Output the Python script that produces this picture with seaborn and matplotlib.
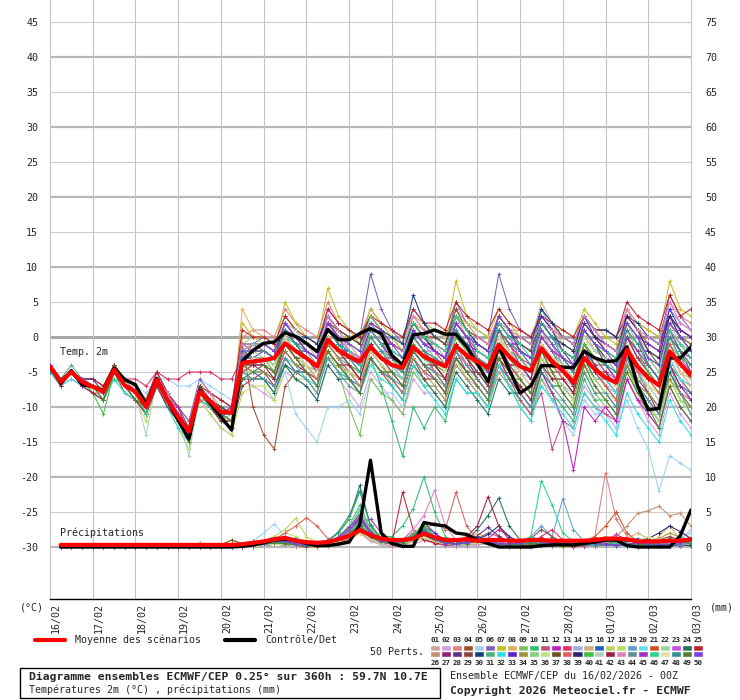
import numpy as np
import pandas as pd
import matplotlib
matplotlib.use("Agg")
import matplotlib.pyplot as plt
import matplotlib.transforms as mtransforms
from matplotlib.lines import Line2D
from matplotlib.patches import Rectangle
import seaborn as sns

# time axis : 6h steps over 360h
hours = list(range(0, 361, 6))
day_labels = ["16/02", "17/02", "18/02", "19/02", "20/02", "21/02", "22/02", "23/02",
              "24/02", "25/02", "26/02", "27/02", "28/02", "01/03", "02/03", "03/03"]

member_colors = ["#d4a0a0", "#d0a0e0", "#e08080", "#a05030", "#a0d0f0", "#8060c0", "#c0c020", "#e0b060",
                 "#80c060", "#30c070", "#c05080", "#c020c0", "#e03060", "#a0b0e0", "#d0b080", "#2060c0",
                 "#c0d060", "#b0e060", "#60a0d0", "#60e0f0", "#d05020", "#a0d0a0", "#c050e0", "#207060",
                 "#c02030", "#c09070", "#902070", "#603080", "#904040", "#104080", "#50b080", "#30e0e0",
                 "#6020d0", "#a09040", "#80d080", "#c0e080", "#705020", "#e06060", "#302070", "#40c040",
                 "#b0d0c0", "#a02040", "#e080c0", "#6090a0", "#a030c0", "#30d090", "#e0e0a0", "#309090",
                 "#508030", "#8040e0"]

# ensemble mean and control, 2m temperature (°C)
mean_temp = [-4.2, -6.4, -5.0, -6.4, -7.1, -7.8, -4.7, -6.9, -7.8, -10.0, -6.1, -9.0, -11.4, -13.5, -7.8, -9.2, -10.7, -10.8,
             -3.7, -3.5, -3.3, -3.0, -0.9, -2.0, -3.0, -4.2, -0.4, -1.9, -2.8, -3.5, -1.4, -3.0, -4.0, -4.4, -1.4, -2.8,
             -3.5, -4.2, -1.3, -2.6, -3.5, -4.4, -1.1, -2.8, -4.2, -4.8, -1.6, -3.5, -4.8, -6.5, -3.0, -4.6, -5.8, -6.5,
             -1.8, -4.2, -5.8, -6.9, -2.1, -3.8, -5.5]
control_temp = [-4.2, -6.6, -4.8, -6.8, -7.1, -7.6, -4.5, -6.1, -6.8, -9.7, -5.9, -9.0, -11.9, -14.6, -7.6, -9.5, -11.4, -13.3,
                -3.5, -1.9, -0.9, -0.7, 0.6, 0.1, -0.9, -2.1, 1.1, -0.4, -0.4, 0.5, 1.2, 0.5, -2.6, -4.0, 0.3, 0.5,
                1.0, 0.4, 0.4, -1.4, -3.8, -6.4, -1.3, -4.7, -8.0, -7.0, -4.1, -4.1, -4.3, -4.4, -2.0, -3.0, -3.5, -3.4,
                -1.4, -7.0, -10.4, -10.2, -3.0, -3.0, -1.4]

# ensemble mean and control, precipitation (mm / 6h), from +6h
mean_precip = [0.3, 0.3, 0.3, 0.3, 0.3, 0.3, 0.3, 0.3, 0.3, 0.3, 0.3, 0.3, 0.3, 0.3, 0.3, 0.3, 0.3,
               0.4, 0.6, 0.8, 1.1, 1.3, 0.9, 0.7, 0.6, 0.7, 1.1, 1.6, 2.4, 1.7, 1.2, 1.0, 1.0, 1.2, 1.9, 1.4, 1.0,
               1.0, 1.1, 0.9, 1.0, 1.0, 0.9, 0.9, 1.0, 1.0, 0.9, 0.9, 0.9, 0.9, 1.0, 1.2, 1.2, 1.1, 0.8, 0.8, 0.8,
               0.9, 0.9, 1.1]
control_precip = [0, 0, 0, 0, 0, 0, 0, 0, 0, 0, 0, 0, 0, 0, 0, 0, 0,
                  0.1, 0.3, 0.6, 1.0, 1.1, 1.0, 0.5, 0.2, 0.2, 0.4, 0.7, 3.2, 12.4, 2.0, 0.5, 0.1, 0.1, 3.5, 3.2, 3.0,
                  2.0, 1.8, 1.0, 0.5, 0.0, 0.0, 0.0, 0.0, 0.2, 0.3, 0.3, 0.3, 0.5, 0.7, 1.0, 1.0, 0.2, 0.0, 0.0, 0.0,
                  0.0, 1.6, 5.3]

# 50 perturbed members, temperature
temp_members = [
    [-4,-7,-5,-6,-7,-8,-4,-6,-8,-10,-6,-9,-11,-13,-7,-9,-10,-11, -3,-2, -1,-2,2,0, -1,-3,3,0, -1,-2,3,1, 0,-2,2,0, -1,-3,3,0, -2,-3,2,0, -2,-4,1,-1, -3,-5,0,-2, -3,-4,2,-1, -3,-5,2,-1, -2],
    [-4,-7,-5,-7,-8,-9,-5,-7,-9,-11,-7,-10,-13,-15,-9,-11,-13,-14, -6,-7, -8,-9,-5,-6, -7,-9,-4,-6, -8,-10,-5,-7, -9,-11,-6,-8, -8,-10,-4,-6, -7,-9,-3,-6, -9,-11,-6,-8, -10,-12,-7,-9, -11,-13,-6,-9, -12,-14,-8,-11, -13],
    [-4,-6,-5,-6,-6,-7,-4,-6,-7,-9,-5,-8,-10,-12,-7,-8,-9,-10, 0,1, 1,0,4,2, 1,0,5,2, 1,0,4,2, 1,0,3,2, 1,0,4,2, 0,-1,3,1, 1,0,4,2, 0,-1,3,1, 1,0,4,2, 1,0,5,3, 2],
    [-4,-6,-5,-6,-7,-8,-5,-7,-8,-10,-7,-10,-12,-14,-8,-10,-12,-13, -1,-10, -14,-16,-7,-5, -4,-6,-1,-3, -5,-6,-2,-4, -6,-8,-3,-5, -4,-6,-1,-3, -5,-7,-2,-4, -6,-8,-3,-5, -7,-9,-4,-6, -6,-8,-2,-5, -8,-10,-4,-6, -8],
    [-4,-6,-5,-6,-7,-8,-5,-6,-7,-8,-6,-6,-7,-7,-6,-7,-8,-9, -4,-3, -3,-4,-5,-11, -13,-15,-10,-10, -9,-11,-6,-8, -8,-10,-5,-7, -7,-9,-4,-6, -8,-10,-5,-7, -9,-11,-7,-9, -12,-14,-9,-11, -11,-13,-9,-13, -16,-22,-17,-18, -19],
    [-4,-6,-5,-6,-7,-8,-4,-6,-7,-9,-5,-8,-10,-12,-6,-8,-9,-10, -2,-1, 0,-1,3,1, -1,-2,4,2, 1,0,9,4, 1,-1,4,2, 0,-1,5,2, 1,0,9,4, 1,0,3,1, 0,-1,3,1, -1,-2,2,0, 0,-1,6,3, 1],
    [-4,-6,-5,-6,-7,-8,-4,-6,-8,-10,-6,-9,-11,-13,-7,-9,-10,-11, 2,0, -1,-2,5,2, 0,-1,7,3, 1,-1,4,2, 0,-2,3,1, 1,0,8,3, 1,0,4,2, 0,-1,3,1, 1,0,4,2, 0,-1,3,2, 1,0,8,4, 3],
    [-4,-6,-5,-6,-7,-9,-5,-7,-8,-11,-6,-9,-12,-14,-8,-9,-11,-12, 4,1, 0,-1,2,1, -1,-2,2,0, 0,-1,3,1, -1,-2,2,1, -2,-3,2,0, -2,-3,1,-1, -3,-4,0,-2, -4,-5,1,-2, -3,-4,2,0, -2,-3,3,1, 0],
    [-4,-7,-5,-6,-7,-8,-5,-7,-8,-10,-6,-9,-12,-14,-8,-10,-11,-12, -5,-6, -6,-8,-3,-5, -6,-8,-2,-5, -10,-14,-6,-8, -9,-11,-5,-7, -7,-9,-3,-6, -8,-10,-4,-7, -10,-12,-6,-9, -9,-11,-5,-8, -10,-12,-4,-8, -11,-13,-6,-9, -10],
    [-4,-6,-5,-7,-7,-8,-5,-7,-9,-10,-6,-9,-11,-14,-8,-9,-11,-11, -4,-4, -4,-5,-1,-3, -4,-6,-1,-3, -6,-8,-3,-7, -12,-17,-10,-13, -10,-12,-6,-8, -8,-10,-4,-7, -9,-11,-5,-8, -10,-12,-6,-9, -9,-11,-4,-7, -8,-10,-3,-6, -7],
    [-4,-6,-5,-6,-7,-8,-5,-7,-8,-10,-6,-9,-11,-13,-8,-9,-10,-11, -3,-3, -3,-4,0,-2, -3,-5,-1,-3, -4,-5,-1,-3, -4,-6,-2,-4, -5,-7,-2,-4, -6,-8,-3,-6, -9,-11,-8,-16, -12,-13,-8,-10, -11,-12,-6,-9, -10,-12,-5,-8, -9],
    [-4,-6,-5,-6,-7,-8,-5,-7,-8,-10,-7,-9,-12,-14,-8,-10,-11,-12, -5,-4, -4,-5,-1,-3, -5,-6,-2,-4, -5,-7,-2,-4, -6,-8,-3,-5, -6,-8,-2,-5, -7,-9,-4,-6, -8,-10,-5,-8, -12,-19,-10,-12, -10,-12,-6,-9, -11,-13,-7,-10, -12],
    [-4,-6,-5,-6,-6,-7,-4,-6,-6,-7,-5,-6,-6,-5,-5,-5,-6,-6, -3,-1, -2,-3,1,-1, -2,-3,2,0, -2,-3,1,-1, -3,-4,1,-1, -2,-4,2,0, -3,-4,1,-1, -3,-5,0,-2, -4,-6,-1,-3, -5,-7,0,-3, -4,-6,1,-2, -4],
    [-5,-7,-6,-7,-8,-9,-5,-7,-9,-11,-7,-10,-12,-15,-9,-10,-12,-13, -6,-5, -5,-6,-2,-4, -4,-5,0,-2, -3,-4,1,-1, -4,-5,0,-2, -3,-4,1,-1, -4,-5,1,-2, -5,-6,-1,-3, -6,-7,-2,-4, -7,-8,-1,-4, -8,-10,-3,-6, -9],
    [-4,-6,-5,-6,-7,-8,-5,-7,-8,-10,-6,-8,-11,-13,-7,-8,-10,-11, -2,-3, -3,-4,0,-2, -2,-3,1,-1, -1,-3,2,0, -1,-2,2,1, 0,-1,3,1, 0,-1,2,1, 0,-1,5,2, -1,-2,3,1, -2,-3,4,1, -2,-3,3,0, -1],
    [-4,-7,-5,-6,-7,-8,-5,-7,-8,-10,-6,-9,-11,-14,-8,-9,-11,-12, -4,-5, -6,-7,-4,-5, -5,-6,-3,-5, -6,-7,-3,-5, -5,-6,-2,-4, -6,-7,-3,-5, -5,-7,-2,-4, -4,-6,0,-2, -5,-6,-2,-4, -6,-8,-3,-6, -7,-9,-4,-7, -8],
    [-4,-6,-5,-6,-7,-7,-5,-7,-8,-9,-6,-9,-11,-14,-8,-9,-10,-11, -1,0, 0,-1,3,1, 0,-1,2,1, -1,-2,3,1, 0,-1,3,2, 1,0,3,2, 1,0,2,1, 0,-1,2,1, -1,-2,2,0, -2,-3,1,-1, -3,-4,1,-2, -3],
    [-4,-6,-5,-7,-8,-9,-6,-8,-9,-12,-7,-10,-13,-16,-9,-11,-13,-14, -8,-7, -7,-9,-4,-6, -6,-8,-2,-5, -5,-7,-2,-4, -7,-9,-4,-6, -8,-10,-3,-6, -6,-8,-2,-5, -7,-9,-3,-6, -8,-10,-4,-7, -9,-11,-5,-8, -10,-12,-6,-9, -11],
    [-4,-6,-5,-6,-7,-8,-4,-6,-8,-10,-6,-8,-11,-13,-7,-9,-10,-10, -2,-2, -2,-3,1,0, -2,-3,1,-1, -3,-4,0,-2, -2,-3,1,-1, -3,-4,1,-1, -2,-3,2,0, -1,-2,4,1, -2,-3,2,0, -1,-2,3,1, 0,-1,4,2, 1],
    [-4,-6,-5,-6,-7,-8,-5,-7,-8,-10,-6,-9,-11,-14,-8,-9,-11,-12, -4,-4, -4,-5,-1,-3, -3,-5,-1,-3, -4,-5,-1,-3, -4,-6,-1,-3, -5,-6,-1,-4, -5,-7,-2,-4, -6,-8,-3,-5, -7,-8,-3,-6, -6,-8,-2,-5, -7,-9,-3,-6, -7],
    [-4,-6,-5,-6,-7,-8,-5,-7,-8,-10,-7,-9,-12,-14,-8,-10,-12,-12, -5,-4, -3,-4,0,-2, -3,-4,0,-2, -2,-3,1,-1, -3,-4,0,-2, -4,-5,0,-2, -3,-5,1,-2, -4,-5,1,-2, -3,-4,2,0, -2,-3,3,1, -1,-2,3,1, 0],
    [-4,-7,-5,-6,-7,-8,-5,-6,-8,-10,-6,-8,-11,-13,-8,-9,-11,-12, -3,-2, -2,-3,0,-1, -3,-4,0,-2, -4,-6,-1,-3, -5,-6,-1,-3, -4,-5,0,-2, -4,-6,0,-3, -6,-8,-2,-5, -8,-10,-5,-7, -9,-11,-4,-7, -9,-12,-5,-8, -10],
    [-4,-6,-5,-6,-7,-8,-5,-7,-8,-10,-6,-9,-11,-13,-8,-9,-11,-11, -3,-3, -4,-5,-1,-3, -4,-5,-1,-3, -3,-4,1,-1, -3,-4,0,-2, -2,-3,2,0, -2,-3,2,0, -3,-4,1,-1, -4,-6,-1,-3, -5,-6,0,-3, -5,-7,0,-3, -5],
    [-4,-6,-5,-6,-7,-8,-5,-7,-8,-10,-6,-9,-11,-14,-8,-9,-11,-12, -6,-6, -6,-8,-4,-6, -7,-9,-4,-6, -6,-8,-3,-5, -6,-8,-3,-6, -8,-10,-5,-7, -9,-11,-6,-8, -8,-10,-5,-7, -7,-9,-3,-6, -8,-10,-4,-7, -9,-11,-5,-8, -10],
    [-4,-6,-5,-6,-6,-7,-4,-6,-7,-9,-5,-8,-10,-13,-7,-8,-9,-10, 1,0, 0,-1,3,1, 0,-1,4,2, 1,0,3,2, 1,0,4,2, 2,1,5,3, 2,1,4,2, 1,0,3,2, 1,0,3,1, 1,0,5,3, 2,1,6,3, 4],
    [-4,-6,-5,-7,-7,-8,-5,-7,-9,-10,-6,-9,-12,-14,-8,-10,-11,-11, -4,-3, -3,-4,0,-2, -4,-5,-1,-3, -5,-7,-2,-4, -6,-8,-3,-5, -7,-9,-4,-6, -8,-10,-5,-7, -7,-9,-3,-6, -6,-8,-2,-5, -5,-7,-1,-4, -6,-8,-2,-5, -6],
    [-4,-6,-5,-6,-7,-8,-5,-7,-8,-10,-6,-9,-12,-14,-8,-10,-11,-12, -3,-4, -5,-6,-2,-4, -5,-7,-2,-4, -4,-6,-1,-3, -3,-5,0,-2, -4,-6,-1,-3, -5,-6,-1,-4, -4,-6,-1,-3, -5,-7,-2,-5, -7,-9,-3,-6, -8,-11,-4,-7, -9],
    [-4,-6,-5,-6,-6,-8,-4,-7,-8,-10,-6,-8,-11,-14,-7,-9,-11,-10, -1,-1, -1,-2,2,0, -1,-2,2,0, -2,-3,2,0, -2,-3,1,-1, -1,-2,3,1, -1,-2,3,1, -2,-3,2,0, -2,-4,1,-1, -3,-4,2,0, -4,-6,0,-2, -5],
    [-4,-6,-5,-7,-8,-9,-5,-8,-9,-11,-7,-10,-12,-15,-9,-10,-12,-13, -7,-6, -5,-7,-3,-5, -5,-6,-2,-4, -6,-8,-3,-5, -7,-9,-4,-6, -6,-8,-3,-5, -5,-7,-1,-4, -6,-8,-2,-5, -5,-7,-1,-4, -4,-6,0,-3, -5,-7,-1,-4, -6],
    [-4,-6,-5,-6,-7,-8,-5,-7,-8,-10,-6,-9,-11,-13,-8,-9,-10,-11, -2,-1, -1,-2,1,0, 0,-1,3,1, 0,-1,3,1, 0,-1,6,2, 0,-1,3,1, -1,-2,2,0, 0,-1,4,2, 0,-1,3,1, 1,0,3,2, 0,-1,3,1, 0],
    [-4,-6,-4,-6,-7,-8,-5,-7,-8,-11,-6,-9,-11,-15,-8,-9,-11,-11, -3,-3, -3,-4,1,-1, -2,-4,1,-1, -3,-4,1,-1, -3,-5,0,-2, -3,-4,1,-1, -4,-5,0,-2, -4,-5,0,-2, -5,-6,-1,-3, -4,-6,0,-2, -5,-7,-1,-3, -4],
    [-5,-7,-6,-7,-8,-9,-6,-8,-9,-11,-7,-10,-13,-15,-9,-10,-12,-13, -5,-5, -5,-6,-3,-4, -6,-7,-3,-5, -6,-8,-4,-6, -7,-9,-4,-7, -9,-11,-6,-8, -8,-10,-4,-7, -10,-12,-7,-9, -11,-13,-8,-10, -12,-14,-8,-11, -13,-15,-9,-12, -14],
    [-4,-6,-5,-6,-7,-8,-5,-7,-8,-10,-6,-9,-11,-13,-8,-9,-10,-11, -2,-3, -2,-3,1,-1, -3,-4,0,-2, -2,-3,1,-1, -1,-2,2,0, -2,-3,1,-1, -2,-3,1,-1, -1,-2,3,1, -2,-3,2,0, -2,-3,2,0, -1,-2,4,1, 0],
    [-4,-6,-5,-6,-7,-8,-5,-7,-8,-10,-6,-9,-11,-14,-8,-9,-11,-12, -4,-5, -5,-6,-2,-4, -4,-6,-1,-3, -3,-5,0,-2, -4,-5,0,-2, -5,-6,-1,-3, -4,-6,-1,-3, -5,-7,-2,-4, -6,-8,-3,-5, -7,-9,-4,-7, -8,-10,-6,-8, -10],
    [-4,-7,-5,-6,-7,-9,-5,-7,-8,-10,-7,-9,-11,-14,-8,-9,-12,-11, -2,-2, -3,-4,0,-2, -2,-3,1,0, -1,-2,3,1, -2,-3,2,0, -1,-2,3,1, -2,-3,1,-1, -2,-3,1,-1, -3,-4,0,-2, -2,-3,2,0, -3,-5,1,-1, -2],
    [-4,-6,-5,-6,-7,-8,-5,-7,-8,-10,-6,-9,-12,-14,-8,-10,-11,-12, -5,-5, -4,-5,-1,-3, -4,-6,-2,-4, -5,-6,-2,-4, -5,-7,-2,-4, -6,-7,-2,-4, -7,-9,-3,-5, -6,-8,-3,-5, -7,-9,-4,-6, -8,-9,-3,-6, -7,-8,-2,-5, -6],
    [-4,-6,-5,-6,-7,-8,-4,-6,-8,-10,-6,-9,-11,-13,-7,-9,-10,-11, -1,-2, -2,-3,1,-1, -1,-2,2,1, 0,-1,2,1, -1,-2,2,0, 0,-1,4,1, 0,-1,3,1, -1,-2,2,0, -2,-3,1,-1, -3,-5,0,-2, -2,-4,2,0, -1],
    [-4,-6,-5,-6,-8,-8,-5,-7,-8,-10,-6,-9,-12,-14,-9,-9,-11,-12, -3,-4, -4,-5,-1,-3, -5,-6,-2,-4, -4,-6,-1,-3, -4,-5,0,-2, -5,-7,-1,-4, -6,-8,-2,-5, -5,-7,-1,-4, -6,-8,-2,-5, -7,-9,-2,-5, -6,-8,-1,-4, -5],
    [-4,-6,-5,-6,-7,-8,-5,-7,-8,-10,-6,-9,-11,-14,-8,-9,-11,-12, -3,-2, -2,-3,2,0, -2,-3,1,-1, -2,-3,1,-1, -1,-2,2,0, -2,-3,2,0, -1,-2,3,1, -2,-3,2,0, -1,-2,3,0, -1,-2,3,1, -2,-3,3,0, -2],
    [-4,-6,-5,-6,-8,-11,-5,-7,-8,-10,-6,-9,-11,-13,-8,-9,-11,-11, -4,-4, -3,-5,0,-2, -3,-4,0,-2, -4,-5,0,-2, -3,-5,-1,-3, -4,-5,0,-2, -4,-5,0,-2, -3,-5,0,-2, -4,-6,-1,-3, -4,-5,1,-2, -5,-7,0,-3, -4],
    [-4,-6,-5,-6,-7,-8,-5,-6,-8,-14,-6,-9,-11,-17,-8,-9,-11,-11, -2,-1, -1,-2,2,1, -1,-2,2,0, -2,-3,2,0, -2,-3,1,-1, -3,-4,1,-1, -3,-4,0,-2, -4,-5,1,-2, -4,-5,0,-2, -3,-5,1,-1, -3,-4,1,-1, -3],
    [-4,-7,-5,-7,-8,-9,-5,-7,-9,-11,-7,-10,-12,-14,-8,-10,-12,-12, -4,-4, -4,-6,-1,-3, -3,-5,0,-2, -4,-6,-1,-3, -5,-7,-2,-4, -4,-6,-1,-3, -6,-8,-3,-5, -7,-9,-4,-6, -6,-8,-2,-5, -5,-7,-1,-4, -6,-7,-2,-5, -7],
    [-4,-6,-5,-6,-7,-8,-5,-7,-7,-10,-6,-8,-11,-14,-8,-8,-11,-11, -1,-2, -2,-3,1,0, -1,-2,3,1, -2,-3,2,0, -1,-2,3,1, -1,-2,2,0, 0,-1,3,1, 0,-1,2,1, 0,-1,3,1, -1,-2,4,1, 0,-1,5,2, 1],
    [-4,-6,-5,-6,-7,-8,-5,-7,-8,-10,-6,-9,-11,-14,-8,-9,-11,-12, -5,-6, -6,-7,-3,-5, -6,-8,-3,-5, -7,-8,-3,-5, -6,-7,-2,-4, -5,-7,-2,-4, -6,-8,-3,-6, -8,-10,-4,-7, -9,-11,-5,-8, -8,-10,-3,-7, -9,-11,-4,-8, -11],
    [-4,-6,-5,-7,-7,-8,-5,-7,-8,-10,-6,-9,-10,-14,-8,-9,-11,-10, -3,-3, -3,-4,0,-2, -2,-3,2,0, -3,-4,1,-1, -3,-4,1,-1, -2,-3,2,0, -3,-5,1,-1, -4,-5,0,-2, -3,-5,1,-1, -4,-6,0,-2, -4,-6,1,-2, -3],
    [-4,-6,-5,-6,-7,-8,-6,-7,-8,-11,-6,-9,-11,-14,-8,-10,-11,-11, -2,-3, -3,-4,0,-1, -3,-4,1,-1, -2,-4,1,-1, -2,-3,2,0, -1,-2,3,1, -2,-3,2,0, -1,-3,2,0, -2,-3,1,-1, -2,-3,2,0, -3,-4,1,-1, -3],
    [-4,-6,-5,-6,-7,-8,-5,-7,-8,-10,-6,-9,-11,-14,-8,-9,-11,-12, -4,-3, -3,-4,0,-2, -4,-5,0,-2, -3,-5,0,-2, -4,-5,0,-2, -3,-5,1,-2, -4,-6,0,-2, -5,-7,-1,-3, -4,-6,0,-3, -6,-7,-1,-4, -7,-9,-2,-5, -7],
    [-5,-6,-5,-6,-7,-8,-5,-7,-8,-10,-6,-10,-11,-14,-8,-9,-11,-11, -3,-2, -2,-3,1,-1, -3,-4,1,-1, -3,-5,0,-2, -4,-5,0,-2, -3,-4,1,-1, -3,-4,1,-1, -2,-4,2,0, -3,-5,1,-1, -4,-5,1,-1, -4,-6,0,-2, -4],
    [-4,-6,-5,-6,-7,-9,-5,-7,-9,-10,-6,-9,-12,-15,-8,-9,-11,-12, -6,-5, -4,-5,-1,-3, -5,-7,-2,-4, -6,-8,-3,-5, -5,-7,-2,-4, -6,-8,-3,-5, -7,-9,-3,-6, -6,-8,-2,-5, -8,-10,-4,-7, -9,-11,-5,-8, -10,-13,-7,-10, -12],
    [-4,-6,-5,-6,-7,-8,-5,-7,-8,-10,-6,-9,-11,-13,-8,-9,-11,-11, -2,-2, -1,-2,2,0, -2,-3,2,0, -1,-2,2,1, -1,-3,1,-1, -2,-3,2,0, -1,-2,3,1, -2,-3,1,-1, -3,-4,1,-1, -2,-4,2,0, -3,-4,2,0, -2],
]

# 50 perturbed members, precipitation from +6h
precip_members = [
    [0,0,0,0,0,0,0,0,0,0,0,0,0,0,0,0,0, 0,0.2,0.5,1.2,0.8,0.3,0,0,0.3,1, 2,3.5,1.2,0.5,0.3,0.8,1.5,2.2,1,0.3, 0.2,0.5,1,0.6,0.2,0,0,0.3,0.8,0.5, 0.3,0.2,0.5,1,0.8,0.3,0.2,0,0,0.3, 0.5,0.3,0.2],
    [0,0,0,0,0,0,0,0,0,0,0,0,0,0,0,0,0, 0,0,0.2,0.5,0.3,0,0,0,0.2,0.5, 1.2,2,0.8,0.3,0,0,0.3,1,0.5,0.2, 0,0,0.3,0.5,0.2,0,0,0,0.2,0.5, 0.3,0,0,0.2,0.4,0.3,0,0,0,0.2, 0.5,1,2.5],
    [0,0,0,0,0,0,0,0,0,0,0,0,0,0,0,0,0, 0,0.3,0.8,1.5,1,0.5,0.2,0,0.3,0.8, 1.5,2.5,1.2,0.5,0.2,0.5,1.2,2,1,0.5, 0.3,0.5,0.8,0.5,0.3,0.2,0,0.3,1,0.8, 0.5,0.3,0.5,1.5,10.6,4,1.5,0.5,0.3,0.2, 0.3,0.5,0.3],
    [0,0,0,0,0,0,0,0.3,0,0,0,0,0,0,0,0,0, 0,0,0.3,0.6,0.4,0.2,0,0,0.2,0.6, 1.5,3,1.5,0.6,0.2,0.3,0.8,1.5,0.8,0.3, 0.2,0.5,1.2,0.8,0.3,0,0,0.2,0.5,0.3, 0.2,0,0.2,0.5,1,0.6,0.3,0,0,0.3, 0.6,0.8,0.5],
    [0,0,0,0,0,0,0,0,0,0,0,0,0,0,0,0,0, 0.2,0.8,2,3.3,1.5,0.5,0.3,0.2,0.5,1, 2,3,1,0.5,0.3,0.8,2,1.2,0.5,0.3, 0.5,1,0.8,0.5,0.3,0.2,0.5,1,0.6,0.3, 0.2,0.5,0.8,0.5,0.3,0.2,0,0.2,0.5,0.3, 0.2,0.3,0.5],
    [0,0,0,0,0,0,0,0,0,0,0,0,0,0,0,0,0, 0,0,0.3,0.5,0.8,0.5,0.2,0,0.3,0.6, 1.8,4,2,0.8,0.3,1,2.5,1.5,0.6,0.3, 0.2,0.3,0.6,1,0.8,0.3,0.2,0.5,1.2,0.8, 0.4,0.2,0.3,0.6,1.2,0.8,0.4,0.2,0,0.2, 0.5,0.4,0.3],
    [0,0,0,0,0,0,0,0,0,0,0,0,0,0,0,0,0, 0,0.2,0.5,0.8,1.2,0.6,0.3,0.2,0.5,1.2, 2.5,4.5,2,0.8,0.4,0.6,1,2.8,1.5,0.6, 0.3,0.5,1,0.6,0.3,0.2,0.3,0.8,0.5,0.2, 0,0.2,0.5,0.8,1.5,1,0.5,0.3,0.2,0.5, 0.8,0.6,0.4],
    [0,0,0,0,0,0,0,0,0,0,0,0,0,0,0,0,0, 0,0,0.2,0.4,0.3,0.2,0,0,0.2,0.5, 1,2,1,0.5,0.2,0.4,0.8,1.2,0.6,0.3, 0.5,1,2,1.2,0.5,0.3,0.2,0.4,0.3,0.2, 0.3,0.6,0.4,0.2,0.5,0.8,0.5,0.3,0.5,1.5, 3,1,0.5],
    [0,0,0,0,0,0,0,0,0,0,0,0,0,0,0,0,0, 0,0.2,0.6,1,0.6,0.3,0,0,0.3,0.8, 2.2,5,2.5,1,0.4,0.6,1.5,3,1.5,0.5, 0.3,0.4,0.8,0.6,0.4,0.2,0.3,0.6,0.4,0.3, 0.2,0.4,0.6,1,0.8,0.5,0.3,0.2,0.3,0.5, 0.8,0.5,0.3],
    [0,0,0,0,0,0,0,0,0,0,0,0,0,0,0,0,0, 0,0.3,0.6,0.9,0.5,0.3,0.2,0,0.3,0.8, 1.5,3,2,1.5,1.5,3,5.5,10,5,1.5, 0.8,0.5,0.5,0.8,0.5,0.3,0.2,0.5,1,0.6, 0.3,0.2,0.4,0.6,0.8,0.5,0.3,0.2,0.3,0.4, 0.6,0.4,0.3],
    [0,0,0,0,0,0,0,0,0,0,0,0,0,0,0,0,0, 0,0,0.3,0.5,0.4,0.2,0.3,0.5,0.8,1.2, 1.8,2.5,1.5,0.8,0.5,0.8,1.2,1.8,1,0.5, 0.3,0.6,1.2,2,1.5,0.6,0.3,0.3,0.5,0.4, 0.3,0.2,0.5,0.6,0.4,0.2,0.3,0.4,0.6,0.5, 0.3,0.5,0.4],
    [0,0,0,0,0,0,0,0,0,0,0,0,0,0,0,0,0, 0,0.2,0.4,0.6,0.4,0.2,0,0.2,0.4,0.8, 1.5,3.5,4,2,0.8,0.5,1,2,1.2,0.6, 0.4,0.3,0.5,1.2,2.5,1.5,0.5,0.3,0.6,0.8, 0.5,0.3,0.2,0.4,0.8,1.8,1,0.5,0.3,0.2, 0.4,0.6,1],
    [0,0,0,0,0,0,0,0,0,0,0,0,0,0,0,0,0, 0,0,0.2,0.5,0.8,1.2,0.6,0.3,0.2,0.5, 1,2.2,1.2,0.6,0.3,0.8,2,1.2,0.5,0.3, 0.2,0.5,1,0.6,0.3,0.2,0.3,0.6,1.5,2.5, 1,0.4,0.2,0.3,0.6,0.4,0.2,0.3,0.5,0.3, 0.2,0.3,0.5],
    [0,0,0,0,0,0,0,0,0,0,0,0,0,0,0,0,0, 0,0.2,0.5,1,1.5,1.2,0.6,0.3,0.2,0.5, 1.2,2.5,1,0.5,0.3,0.5,1,1.5,0.8,0.4, 0.3,0.4,0.8,0.5,0.3,0.2,0.4,0.6,0.4,0.2, 0.3,0.5,0.8,1.2,0.8,0.4,0.2,0.3,0.6,0.8, 1,0.6,0.4],
    [0,0,0,0,0,0,0,0,0,0,0,0,0,0,0,0,0, 0,0,0.3,0.6,0.5,0.3,0,0,0.2,0.6, 1.5,2.8,1.2,0.6,0.3,0.5,1.2,2.5,1,0.5, 0.3,0.5,0.6,0.4,0.2,0.3,0.5,0.8,0.6,0.3, 0.2,0.3,0.5,0.6,0.4,0.8,1.2,2,1.2,0.5, 0.3,0.5,0.8],
    [0,0,0,0,0,0,0,0,0,0,0,0,0,0,0,0,0, 0,0.2,0.3,0.6,0.9,0.6,0.3,0.2,0.5,1, 2,3.8,1.8,0.8,0.4,0.8,1.5,3,2,1, 0.5,0.8,1.5,1,0.5,0.3,0.2,0.5,1,0.6, 0.3,0.2,0.3,0.5,0.8,0.5,0.3,0.2,0.2,0.4, 0.6,0.8,0.5],
    [0,0,0,0,0,0,0,0,0,0,0,0,0,0,0,0,0, 0,0.3,0.8,1.5,2.5,4.1,1.5,0.6,0.3,0.8, 1.5,3,1.5,0.6,0.3,0.5,1,2,1.5,0.6, 0.4,0.3,0.5,0.8,0.5,0.3,0.2,0.4,0.6,0.4, 0.2,0.3,0.5,0.4,0.6,1,0.6,0.3,0.2,0.3, 0.5,0.3,0.2],
    [0,0,0,0,0,0,0,0,0,0,0,0,0,0,0,0,0, 0,0.2,0.5,1.2,2,1.5,0.6,0.3,0.5,1.2, 2.5,4.8,2,0.8,0.5,1,1.8,3.5,2,0.8, 0.5,0.6,1,0.8,0.5,0.3,0.3,0.5,0.8,0.5, 0.3,0.2,0.4,0.6,0.5,0.3,0.2,0.3,0.5,0.6, 0.4,0.3,0.5],
    [0,0,0,0,0,0,0,0,0,0,0,0,0,0,0,0,0, 0,0,0.3,0.8,0.6,0.3,0.2,0.2,0.4,0.8, 1.6,3.2,1.4,0.6,0.3,0.5,1,1.8,1,0.5, 0.3,0.6,1.2,0.8,0.4,0.3,0.6,1.5,3,1.5, 6.9,2.5,0.8,0.4,0.6,0.8,0.5,0.3,0.2,0.5, 0.8,0.5,0.3],
    [0,0,0,0,0,0,0,0,0,0,0,0,0,0,0,0,0, 0,0.2,0.6,1.2,0.8,0.4,0.2,0.2,0.5,1, 2,3.5,2.5,1,0.5,0.8,1.5,2.5,1.2,0.5, 0.3,0.5,0.8,0.6,0.4,0.3,0.8,1.5,1,0.5, 0.3,0.5,0.8,0.5,0.3,0.2,0.4,0.8,0.5,0.3, 0.5,1.2,2],
    [0,0,0,0,0,0,0,0,0,0,0,0,0,0,0,0,0, 0,0.2,0.4,0.7,0.5,0.3,0.2,0,0.3,0.6, 1.2,2.5,1.2,0.5,0.3,0.6,1.5,2.2,1,0.4, 0.3,0.5,0.6,0.4,0.3,0.2,0.4,0.8,0.5,0.3, 0.2,0.4,0.8,1.5,3,5,2,0.8,0.4,0.3, 0.5,0.4,0.3],
    [0,0,0,0,0,0,0,0,0,0,0,0,0,0,0,0,0, 0,0,0.3,0.5,0.4,0.3,0.2,0.3,0.6,1, 1.5,2,1,0.5,0.3,0.4,0.8,1.2,0.8,0.4, 0.2,0.3,0.5,0.4,0.3,0.2,0.3,0.5,0.4,0.3, 0.2,0.3,0.4,0.6,0.5,0.3,0.4,0.8,1.5,1, 0.5,0.6,1.5],
    [0,0,0,0,0,0,0,0,0,0,0,0,0,0,0,0,0, 0,0.2,0.5,0.8,1.2,0.8,0.4,0.3,0.6,1.4, 2.8,4.2,2.2,1,0.5,0.8,1.6,2.6,1.4,0.6, 0.4,0.6,1,0.7,0.5,0.3,0.4,0.8,0.6,0.4, 0.3,0.5,0.7,0.5,0.3,0.4,0.6,0.4,0.3,0.2, 0.4,0.6,0.8],
    [0,0,0,0,0,0,0,0,0,0,0,0,0,0,0,0,0, 0,0.2,0.5,0.9,0.6,0.4,0.3,0.5,1,2, 4,8.8,3,1.2,0.5,0.8,1.5,2.5,1.2,0.6, 0.5,1,2.5,4.5,7,3,1,0.5,0.3,0.2, 0.3,0.5,0.4,0.3,0.5,0.8,0.5,0.3,0.2,0.3, 0.4,0.3,0.2],
    [0,0,0,0,0,0,0,0,0,0,0,0,0,0,0,0,0, 0,0,0.3,0.6,0.5,0.3,0.2,0.2,0.5,0.8, 1.5,3,1.5,0.8,0.5,7.8,2.5,1,0.6,0.4, 0.3,0.5,0.8,0.6,0.4,0.3,0.2,0.4,0.6,0.4, 0.3,0.2,0.5,0.8,0.6,0.4,0.3,0.2,0.3,0.5, 0.6,0.4,0.3],
    [0,0,0,0,0,0,0,0,0,0,0,0,0,0.6,0,0,0, 0,0.2,0.4,0.6,0.4,0.3,0.2,0.2,0.4,0.8, 1.2,2.2,1,0.5,0.3,0.5,1,1.8,0.8,0.4, 0.3,0.4,0.6,0.5,0.3,0.2,0.3,0.5,0.4,0.3, 0.2,0.3,0.5,0.4,0.8,1.5,3,4.8,5.2,5.8, 4.5,4.8,3],
    [0,0,0,0,0,0,0,0,0,0,0,0,0,0,0,0,0, 0,0,0.2,0.5,0.8,0.5,0.3,0.2,0.4,0.9, 1.8,3.6,1.6,0.7,0.4,0.6,1.4,2.4,1.2,0.5, 0.3,0.5,0.9,0.6,0.4,0.3,0.5,1,0.7,0.4, 0.3,0.4,0.6,0.8,0.6,0.3,0.2,0.3,0.5,0.4, 0.3,0.5,0.7],
    [0,0,0,0,0,0,0,0,0,0,0,0,0,0,0,0,0, 0,0.2,0.4,0.8,0.6,0.3,0.2,0.3,0.6,1.2, 2.4,4,2,0.9,0.4,0.7,1.3,2,1,0.5, 0.4,0.8,1.6,2.8,1.6,0.6,0.3,0.4,0.7,0.5, 0.3,0.2,0.4,0.5,0.4,0.3,0.4,0.6,0.4,0.3, 0.2,0.3,0.4],
    [0,0,0,0,0,0,0,0,0,0,0,0,0,0,0,0,0, 0,0,0.3,0.5,0.3,0.2,0,0.2,0.5,1, 2,3.2,1.5,0.6,0.3,0.6,1.2,2,1,0.4, 0.3,0.4,0.6,0.5,0.3,0.2,0.5,1.2,2.5,1.5, 0.6,0.3,0.4,0.6,0.4,0.3,0.2,0.4,0.7,1, 1.5,1,0.6],
    [0,0,0,0,0,0,0,0,0,0,0,0,0,0,0,0,0, 0,0.2,0.5,0.7,0.5,0.3,0.2,0.2,0.4,0.8, 1.5,2.6,1.2,0.6,0.4,0.6,1,1.6,0.9,0.5, 0.4,0.6,1,1.8,3,1.5,0.6,0.3,0.3,0.5, 0.8,0.5,0.3,0.2,0.3,0.5,0.8,1.2,0.8,0.4, 0.3,0.2,0.3],
    [0,0,0,0,0,0,0,0,0,0,0,0,0,0,0,0,0, 0,0,0.3,0.6,0.4,0.3,0.2,0.3,0.7,1.5, 3,6,2.5,1,0.5,0.6,1.2,2,1,0.5, 0.3,0.5,0.8,0.6,0.4,0.3,0.3,0.5,0.7,0.4, 0.3,0.4,0.6,0.4,0.3,0.2,0.3,0.5,0.8,0.5, 0.4,0.3,0.4],
    [0,0,0,0,0,0,0,0,0,0,0,0,0,0,0,0,0, 0,0.2,0.4,0.8,0.6,0.4,0.3,0.3,0.6,1.3, 2.5,5.5,2.2,0.9,0.5,0.8,1.6,2.8,1.3,0.6, 0.4,0.6,0.9,0.7,0.4,0.3,0.4,0.7,0.5,0.3, 0.2,0.4,0.7,0.5,0.3,0.4,0.6,0.4,0.3,0.2, 0.4,0.5,0.6],
    [0,0,0,0,0,0,0,0,0,0,0,0,0,0,0,0,0, 0,0,0.2,0.4,0.6,0.4,0.2,0.2,0.4,0.7, 1.4,2.8,1.4,0.6,0.3,0.5,1.4,3.5,2,0.8, 0.4,0.5,0.7,0.5,0.3,0.2,0.4,0.6,0.5,0.3, 0.2,0.3,0.5,0.7,0.5,0.3,0.2,0.3,0.4,0.3, 0.2,0.3,0.5],
    [0,0,0,0,0,0,0,0,0,0,0,0,0,0,0,0,0, 0,0.2,0.5,0.9,0.7,0.4,0.2,0.2,0.5,1.1, 2.2,4.4,2,0.8,0.4,0.7,1.3,2.2,1.1,0.5, 0.3,0.5,0.8,0.6,0.4,0.3,0.3,0.6,0.5,0.3, 0.2,0.3,0.6,0.9,0.7,0.4,0.3,0.4,0.7,1.2, 2,1.4,0.8],
    [0,0,0,0,0,0,0,0,0,0,0,0,0,0,0,0,0, 0,0.2,0.4,0.7,0.5,0.3,0.2,0.3,0.6,1.2, 2.6,5.2,2.4,1,0.5,0.8,1.8,3.2,1.5,0.7, 0.4,0.6,1,0.7,0.4,0.3,0.5,0.8,0.6,0.4, 0.3,0.4,0.6,0.5,0.3,0.2,0.3,0.5,0.4,0.3, 0.3,0.4,0.5],
    [0,0,0,0,0,0,0,0,0,0,0,0,0,0,0,0,0, 0,0,0.3,0.5,0.4,0.3,0.2,0.2,0.5,0.9, 1.8,3.4,1.6,0.7,0.4,0.6,1.2,2,1,0.5, 0.3,0.5,0.8,0.6,0.4,0.3,0.3,0.6,0.5,0.3, 0.2,0.4,0.6,0.5,0.4,0.3,0.5,0.8,1.2,0.8, 0.6,0.8,1.1],
    [0,0,0,0,0,0,0,0,0,0,0,0,0,0,0,0.3,1.0, 0.5,0.8,0.6,0.4,0.3,0.2,0.2,0.3,0.6,1, 1.6,2.4,1.2,0.6,0.3,0.5,1,1.6,0.8,0.4, 0.3,0.4,0.6,0.5,0.3,0.2,0.3,0.5,0.4,0.3, 0.2,0.3,0.5,0.4,0.3,0.2,0.3,0.4,0.3,0.2, 0.3,0.5,0.8],
    [0,0,0,0,0,0,0,0,0,0,0,0,0,0,0,0,0, 0,0.3,0.6,1,2,3,4.2,3,1.2,0.8, 1.4,2.6,1.3,0.6,0.4,0.6,1.2,2.2,3.5,2.5, 7.8,3,1,0.5,0.3,0.2,0.3,0.5,0.4,0.3, 0.2,0.4,0.6,0.8,0.5,0.3,0.2,0.3,0.5,0.4, 0.3,0.4,0.5],
    [0,0,0,0,0,0,0,0,0,0,0,0,0,0,0,0,0, 0,0,0.2,0.4,0.3,0.2,0.2,0.3,0.6,1.1, 2,3.8,1.8,0.8,0.4,0.6,1.2,1.8,0.9,0.4, 0.3,0.5,0.8,0.6,0.4,0.3,0.3,0.5,0.4,0.3, 0.2,0.3,0.4,0.6,0.5,0.3,0.4,0.7,1.2,2, 3,2.2,1.2],
    [0,0,0,0,0,0,0,0,0,0,0,0,0,0,0,0,0, 0,0.2,0.4,0.7,0.5,0.3,0.3,0.4,0.8,2, 4,7.9,3,1.2,0.6,0.9,1.8,3,1.5,0.6, 0.4,0.6,1,0.7,0.4,0.3,0.4,0.7,0.5,0.3, 0.2,0.3,0.5,0.4,0.3,0.2,0.3,0.5,0.4,0.3, 0.3,0.4,0.6],
    [0,0,0,0,0,0,0,0,0,0,0,0,0,0,0,0,0, 0,0.2,0.3,0.5,0.4,0.3,0.2,0.2,0.4,0.8, 1.5,2.4,1.2,0.6,0.4,0.6,1,1.5,0.8,0.5, 0.4,0.6,0.8,0.6,0.4,0.3,0.4,0.6,0.5,0.3, 0.3,0.4,0.5,0.4,0.3,0.2,0.3,0.4,0.5,0.4, 0.3,0.5,0.7],
    [0,0,0,0,0,0,0,0,0,0,0,0,0,0,0,0,0, 0,0,0.3,0.6,0.4,0.3,0.2,0.3,0.6,1, 1.8,3,1.4,0.7,0.4,0.6,1.1,1.8,1,0.6, 0.8,1.5,3,7.2,3,1,0.5,0.3,0.3,0.4, 0.3,0.2,0.4,0.6,0.5,0.3,0.2,0.3,0.5,0.4, 0.3,0.4,0.5],
    [0,0,0,0.5,0,0,0,0,0,0,0,0,0,0,0,0,0, 0,0.2,0.4,0.8,0.6,0.4,0.2,0.3,0.6,1.2, 2.2,3.6,1.8,0.8,0.5,1,2.5,4.5,8.1,3, 1,0.6,0.5,0.4,0.3,0.2,0.4,0.6,0.5,0.3, 0.2,0.3,0.5,0.8,0.6,0.4,0.3,0.4,0.6,0.5, 0.4,0.3,0.4],
    [0,0,0,0,0,0,0,0,0,0,0,0,0,0,0,0,0, 0,0,0.2,0.5,0.4,0.3,0.2,0.2,0.5,0.9, 1.6,3,1.5,0.7,0.4,0.6,1.2,2,1.1,0.5, 0.3,0.5,0.7,0.5,0.4,0.3,0.4,0.6,0.8,1.2, 0.8,0.5,0.3,0.2,0.4,0.6,0.5,0.3,0.4,0.6, 0.8,0.6,0.4],
    [0,0,0,0,0,0,0,0,0,0,0,0,0,0,0,0,0, 0,0.2,0.5,0.9,0.6,0.4,0.3,0.3,0.7,1.4, 2.8,4.6,2.2,0.9,0.5,0.8,1.5,2.4,1.2,0.6, 0.4,0.6,1,0.8,0.5,0.3,0.3,0.6,0.5,0.3, 0.2,0.4,0.6,0.5,0.3,0.2,0.3,0.5,0.4,0.3, 0.3,0.5,0.8],
    [0,0,0,0,0,0,0,0,0,0,0,0,0,0,0,0,0, 0,0.2,0.3,0.6,0.5,0.3,0.2,0.3,0.6,1, 2,3.8,1.8,0.8,0.4,0.6,1.2,2,1,0.5, 0.3,0.5,0.8,0.6,0.4,0.3,0.5,1.5,9.5,6, 2,0.8,0.4,0.3,0.4,0.6,0.4,0.3,0.2,0.3, 0.4,0.5,0.4],
    [0,0,0,0,0,0,0,0,0,0,0,0,0,0,0,0,0, 0,0,0.2,0.4,0.3,0.2,0.2,0.2,0.4,0.8, 1.4,2.2,1.1,0.5,0.3,0.5,1,1.4,0.8,0.4, 0.3,0.4,0.6,0.4,0.3,0.2,0.3,0.5,0.4,0.3, 0.2,0.3,0.4,0.6,0.4,0.3,0.5,0.9,1.5,1, 0.6,0.5,0.4],
    [0,0,0,0,0,0,0,0,0,0,0,0,0,0,0,0,0, 0,0.2,0.4,0.8,0.6,0.4,0.3,0.4,0.8,2.2, 4.5,8,3.2,1.3,0.6,0.9,1.6,2.6,1.3,0.6, 0.4,0.6,0.9,0.7,0.4,0.3,0.4,0.6,0.5,0.3, 0.2,0.4,0.6,0.5,0.3,0.2,0.3,0.5,0.4,0.3, 0.3,0.4,0.5],
    [0,0,0,0,0,0,0,0,0,0,0,0,0,0,0,0,0, 0,0.2,0.4,0.6,0.5,0.3,0.2,0.2,0.5,1, 1.8,3.2,1.5,0.7,0.4,0.6,1.1,1.8,1,0.5, 0.4,0.5,0.8,0.6,0.4,0.3,0.3,0.5,0.4,0.3, 0.2,0.3,0.5,0.7,0.5,0.3,0.2,0.3,0.5,0.8, 1.2,0.8,0.5],
    [0,0,0,0,0,0,0,0,0,0,0,0,0,0,0,0,0, 0,0.2,0.5,1,0.8,0.5,0.3,0.3,0.6,1.2, 2.4,4.2,2,0.9,0.5,0.8,1.4,2.2,1.1,0.5, 0.4,0.6,0.9,0.7,0.5,0.4,0.6,1,0.7,0.4, 0.3,0.4,0.6,0.5,0.4,0.3,0.4,0.6,0.5,0.4, 0.4,0.6,0.9],
]

member_names = [f"{i:02d}" for i in range(1, 51)]
palette = dict(zip(member_names, member_colors))

# long tables for seaborn
rows_t = []
for name, vals in zip(member_names, temp_members):
    for h, v in zip(hours, vals):
        rows_t.append((name, h, v))
df_t = pd.DataFrame(rows_t, columns=["member", "hour", "value"])

rows_p = []
for name, vals in zip(member_names, precip_members):
    for h, v in zip(hours[1:], vals):
        rows_p.append((name, h, v))
df_p = pd.DataFrame(rows_p, columns=["member", "hour", "value"])

sns.set_style("white")
plt.rcParams["font.family"] = ["DejaVu Sans Mono"]
plt.rcParams["axes.unicode_minus"] = False

W, H = 740, 700
fig = plt.figure(figsize=(7.4, 7.0), dpi=100)
ax = fig.add_axes([50 / W, 1 - 599 / H, 641 / W, 599 / H])
y_top, y_bot = 337 / 7, (337 - 599) / 7
ax.set_xlim(0, 360)
ax.set_ylim(y_bot, y_top)

# grid
for v in range(-30, 50, 5):
    if v == 0:
        ax.axhline(v, color="#a8a8a8", lw=2.2, zorder=1)
    elif v % 10 == 0:
        ax.axhline(v, color="#b8b8b8", lw=1.6, zorder=1)
    else:
        ax.axhline(v, color="#cccccc", lw=0.8, zorder=1)
for k in range(len(day_labels)):
    ax.axvline(24 * k, color="#c4c4c4", lw=0.8, zorder=1, clip_on=False)

line_kw = dict(estimator=None, linewidth=0.75, marker="+", markersize=3.5,
               markeredgewidth=0.7, markeredgecolor=None, legend=False)
sns.lineplot(data=df_t, x="hour", y="value", hue="member", palette=palette, ax=ax, zorder=2, **line_kw)
sns.lineplot(x=hours, y=control_temp, color="black", linewidth=2.4, ax=ax, zorder=3)
sns.lineplot(x=hours, y=mean_temp, color="red", linewidth=3.0, ax=ax, zorder=4)

ax2 = ax.twinx()
ax2.set_ylim(y_bot + 30, y_top + 30)
sns.lineplot(data=df_p, x="hour", y="value", hue="member", palette=palette, ax=ax2, zorder=2, **line_kw)
sns.lineplot(x=hours[1:], y=control_precip, color="black", linewidth=2.4, ax=ax2, zorder=3)
sns.lineplot(x=hours[1:], y=mean_precip, color="red", linewidth=3.0, ax=ax2, zorder=4)
ax2.set_xlim(0, 360)

for a in (ax, ax2):
    for s in a.spines.values():
        s.set_visible(False)
    a.set_xlabel("")
    a.set_ylabel("")
    a.set_xticks([])
ax.spines["bottom"].set_visible(True)
ax.spines["bottom"].set_color("black")
ax.spines["bottom"].set_linewidth(1.0)

ax.set_yticks(list(range(-30, 50, 5)))
ax.set_yticklabels([str(v) for v in range(-30, 50, 5)])
ax.tick_params(axis="y", length=0, pad=8.5, labelsize=7.2)
ax2.set_yticks(list(range(0, 80, 5)))
ax2.set_yticklabels([str(v) for v in range(0, 80, 5)])
ax2.tick_params(axis="y", length=0, pad=10, labelsize=7.2)

# day labels, rotated, slightly right of each grid line
offset = mtransforms.ScaledTranslation(6 / 100, -4 / 100, fig.dpi_scale_trans)
for k, lab in enumerate(day_labels):
    ax.text(24 * k, 0, lab, rotation=90, ha="center", va="top", fontsize=7.2,
            transform=ax.get_xaxis_transform() + offset)


def fx(px):
    return px / W


def fy(py):
    return 1 - py / H


fig.text(fx(20), fy(607), "(°C)", fontsize=7.2, va="center")
fig.text(fx(710), fy(607), "(mm)", fontsize=7.2, va="center")
fig.text(fx(60), fy(352), "Temp. 2m", fontsize=7.2, va="center")
fig.text(fx(60), fy(533), "Précipitations", fontsize=7.2, va="center")

# legend
fig.add_artist(Line2D([fx(35), fx(65)], [fy(640), fy(640)], color="red", lw=3))
fig.text(fx(75), fy(640), "Moyenne des scénarios", fontsize=7.2, va="center")
fig.add_artist(Line2D([fx(225), fx(255)], [fy(640), fy(640)], color="black", lw=3))
fig.text(fx(265), fy(640), "Contrôle/Det", fontsize=7.2, va="center")
fig.text(fx(370), fy(652), "50 Perts.", fontsize=7.2, va="center")

lg = fig.add_axes([fx(430), fy(657), 274 / W, 12 / H])
lg.set_xlim(0, 25)
lg.set_ylim(0, 2)
lg.axis("off")
lg.bar(range(25), [1] * 25, bottom=1, width=0.92, align="edge", color=member_colors[:25])
lg.bar(range(25), [1] * 25, bottom=0, width=0.92, align="edge", color=member_colors[25:])
for i in range(25):
    fig.text(fx(430 + 10.96 * i + 5.2), fy(640), member_names[i], fontsize=5.3,
             fontweight="bold", ha="center", va="center")
    fig.text(fx(430 + 10.96 * i + 5.2), fy(663), member_names[25 + i], fontsize=5.3,
             fontweight="bold", ha="center", va="center")

# title box
fig.add_artist(Rectangle((fx(20), fy(698)), 420 / W, 30 / H, fill=False, ec="black",
                         lw=1, transform=fig.transFigure))
fig.text(fx(29), fy(677), "Diagramme ensembles ECMWF/CEP 0.25° sur 360h : 59.7N 10.7E",
         fontsize=8.2, fontweight="bold", va="center")
fig.text(fx(29), fy(690), "Températures 2m (°C) , précipitations (mm)", fontsize=7.2, va="center")
fig.text(fx(450), fy(676), "Ensemble ECMWF/CEP du 16/02/2026 - 00Z", fontsize=7.2, va="center")
fig.text(fx(450), fy(691), "Copyright 2026 Meteociel.fr - ECMWF", fontsize=8.2,
         fontweight="bold", va="center")

fig.savefig("out.png", dpi=100, facecolor="white")
